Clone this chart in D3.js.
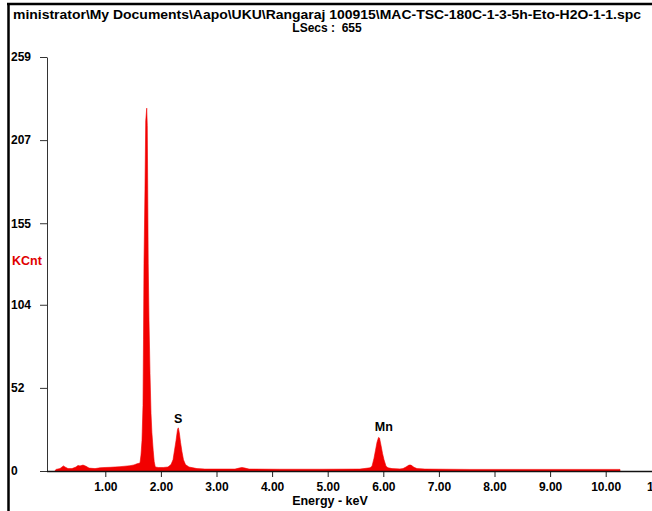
<!DOCTYPE html>
<html>
<head>
<meta charset="utf-8">
<script src="https://cdn.jsdelivr.net/npm/d3@7"></script>
<style>
  body { margin: 0; background: #fff; }
  svg text { font-family: "Liberation Sans", Arial, sans-serif; font-weight: bold; }
</style>
</head>
<body>
<div class="chart"></div>
<script>
var width = 652, height = 511;

// spectrum (energy in keV, counts in KCnt units)
var energy = [0.095, 0.113, 0.185, 0.221, 0.248, 0.275, 0.329, 0.401, 0.473, 0.509, 0.545, 0.599, 0.653, 0.707, 0.815, 0.905, 0.995, 1.085, 1.174, 1.264, 1.354, 1.444, 1.516, 1.570,
  1.624, 1.642, 1.660, 1.678, 1.687, 1.696, 1.714, 1.727, 1.745, 1.755, 1.763, 1.772, 1.786, 1.804, 1.822, 1.838, 1.861, 1.879, 1.899,
  1.954, 2.044,
  2.127, 2.182, 2.218, 2.245, 2.272, 2.299, 2.313, 2.331, 2.353, 2.379, 2.406, 2.442, 2.505, 2.577,
  2.649, 2.793, 3.063, 3.333, 3.405, 3.458, 3.513, 3.585, 4.142, 4.861, 5.581,
  5.761, 5.797, 5.833, 5.860, 5.887, 5.914, 5.932, 5.959, 5.986, 6.013, 6.049, 6.085,
  6.157, 6.300, 6.354, 6.408, 6.462, 6.498, 6.552, 6.606, 6.750, 7.559, 8.458, 9.357, 10.257, 10.258];
var counts = [0, 1, 1.5, 2.5, 3.2, 2.5, 1.5, 1.5, 2.5, 3.5, 3.2, 3.7, 3.0, 1.8, 1.5, 2, 2.2, 2.3, 2.5, 2.7, 3, 3.3, 3.8, 4.5,
  5, 10, 19, 41, 82, 130, 177, 219, 227, 216, 176, 130, 94, 61, 36, 24, 13, 6, 2.5,
  2.2, 2.2,
  2.5, 4, 7, 13, 19, 26, 27, 24, 18, 12, 7, 4, 2.5, 2,
  1.5, 1.2, 1.2, 1.2, 1.8, 2.2, 1.8, 1.2, 1.1, 1.1, 1.2,
  2, 3, 8, 13, 18, 21, 20.6, 16, 11, 7, 3, 2,
  1.5, 1.3, 1.5, 2.5, 3.7, 3.7, 2.3, 1.5, 1.2, 1, 1, 1, 1, 0];

var xTicks = [1, 2, 3, 4, 5, 6, 7, 8, 9, 10, 11];
var yTicks = [0, 52, 104, 155, 207, 259];

var peakNames = ["S", "Mn"];
var peakEnergy = [2.31, 6.01];
var peakCounts = [30, 25];

var titleLine1 = "ministrator\\My Documents\\Aapo\\UKU\\Rangaraj 100915\\MAC-TSC-180C-1-3-5h-Eto-H2O-1-1.spc";
var titleLine2 = "LSecs :  655";

var svg = d3.select('.chart')
  .append('svg')
  .attr('width', width)
  .attr('height', height);

svg.append('rect').attr('width', width).attr('height', height).attr('fill', '#fff');

var x = d3.scaleLinear().domain([0, 11]).range([49.7, 661.3]);
var y = d3.scaleLinear().domain([0, 259]).range([471, 57]);
var axisX = 47;

// window frame
svg.append('line').attr('x1', 8.5).attr('x2', 8.5).attr('y1', 3).attr('y2', height)
  .attr('stroke', '#000').attr('stroke-width', 2.5);
svg.append('line').attr('x1', 7).attr('x2', width).attr('y1', 4).attr('y2', 4)
  .attr('stroke', '#000').attr('stroke-width', 2.5);

// titles
svg.append('text')
  .attr('x', 13).attr('y', 18.5)
  .attr('font-size', 12)
  .attr('textLength', 628).attr('lengthAdjust', 'spacingAndGlyphs')
  .text(titleLine1);
svg.append('text')
  .attr('x', 327).attr('y', 31.5)
  .attr('font-size', 12)
  .attr('text-anchor', 'middle')
  .style('white-space', 'pre')
  .text(titleLine2);

// spectrum
var pts = energy.map(function(e, i) { return { e: e, c: counts[i] }; });
var area = d3.area()
  .x(function(d) { return x(d.e); })
  .y0(y(0))
  .y1(function(d) { return y(d.c); });

svg.append('path')
  .datum(pts)
  .attr('d', area)
  .attr('fill', '#f20000')
  .attr('stroke', '#f20000')
  .attr('stroke-width', 0.6);

// y axis
var gy = svg.append('g')
  .attr('transform', 'translate(' + axisX + ',0)')
  .call(d3.axisLeft(y).tickValues(yTicks).tickFormat(d3.format('d')).tickSize(7).tickSizeOuter(0));
gy.select('.domain').attr('stroke', '#333');
gy.selectAll('.tick line').attr('stroke', '#333');
gy.selectAll('.tick text')
  .attr('x', 11 - axisX)
  .attr('text-anchor', 'start')
  .attr('font-size', 12)
  .attr('font-family', null)
  .attr('fill', '#000');

// x axis
var gx = svg.append('g')
  .attr('transform', 'translate(0,' + y(0) + ')')
  .call(d3.axisBottom(x).tickValues(xTicks).tickFormat(d3.format('.2f')).tickSize(6).tickSizeOuter(0));
gx.select('.domain').remove();
gx.selectAll('.tick line').attr('stroke', '#222');
gx.selectAll('.tick text')
  .attr('y', 20)
  .attr('dy', 0)
  .attr('font-size', 12)
  .attr('font-family', null)
  .attr('fill', '#000');
gx.append('line')
  .attr('x1', axisX).attr('x2', width)
  .attr('y1', 0.5).attr('y2', 0.5)
  .attr('stroke', '#111').attr('stroke-width', 1.5);

svg.append('text')
  .attr('x', 330).attr('y', 505)
  .attr('font-size', 12.5)
  .attr('text-anchor', 'middle')
  .text('Energy - keV');

svg.append('text')
  .attr('x', 12).attr('y', 265)
  .attr('font-size', 12.5)
  .attr('fill', '#e00000')
  .text('KCnt');

// peak labels
svg.selectAll('.peak')
  .data(peakNames)
  .enter()
  .append('text')
  .attr('class', 'peak')
  .attr('x', function(d, i) { return x(peakEnergy[i]); })
  .attr('y', function(d, i) { return y(peakCounts[i]); })
  .attr('text-anchor', 'middle')
  .attr('font-size', 12.5)
  .text(function(d) { return d; });
</script>
</body>
</html>
